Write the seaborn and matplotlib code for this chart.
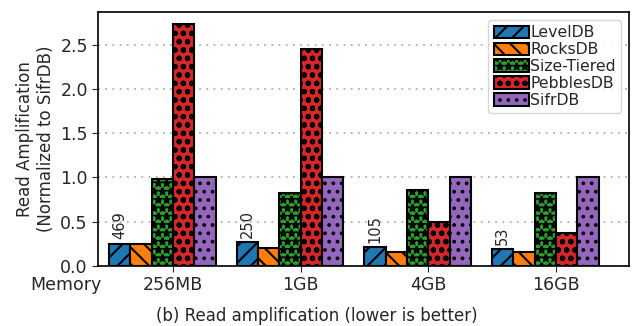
import numpy as np
import pandas as pd
import matplotlib
matplotlib.use("Agg")
import matplotlib.pyplot as plt
import seaborn as sns

# Valeurs (normalisées par rapport à SifrDB)
memory = ["256MB", "1GB", "4GB", "16GB"]
systems = ["LevelDB", "RocksDB", "Size-Tiered", "PebblesDB", "SifrDB"]
leveldb = [0.25, 0.27, 0.21, 0.19]
rocksdb = [0.24, 0.20, 0.16, 0.15]
size_tiered = [0.98, 0.82, 0.855, 0.82]
pebblesdb = [2.74, 2.45, 0.50, 0.37]
sifrdb = [1.0, 1.0, 1.0, 1.0]
leveldb_raw = ["469", "250", "105", "53"]

colors = ["#1f77b4", "#ff7f0e", "#2ca02c", "#d62728", "#9467bd"]
hatches = ["//", "\\\\", "**", "oo", ".."]

series = [leveldb, rocksdb, size_tiered, pebblesdb, sifrdb]
df = pd.DataFrame({
    "memory": np.tile(memory, len(systems)),
    "system": np.repeat(systems, len(memory)),
    "value": np.concatenate(series),
})

sns.set_style("white")
plt.rcParams["hatch.linewidth"] = 1.5
plt.rcParams["font.family"] = ["DejaVu Sans"]

fig, ax = plt.subplots(figsize=(6.34, 3.26), dpi=100)
fig.subplots_adjust(left=0.155, right=0.992, top=0.963, bottom=0.185)

sns.barplot(data=df, x="memory", y="value", hue="system", order=memory,
            hue_order=systems, palette=colors, width=0.835, saturation=1,
            edgecolor="black", linewidth=1.5, ax=ax, legend=False)

for cont, h in zip(ax.containers, hatches):
    for p in cont.patches:
        p.set_hatch(h)

# nombre brut au-dessus des barres LevelDB
ax.bar_label(ax.containers[0], labels=leveldb_raw, rotation=90, padding=3,
             fontsize=10.5)

bw = 0.835 / len(systems)
ax.set_xticks(np.arange(len(memory)) + bw / 2)
ax.set_xticklabels(memory, fontsize=12.5)
ax.set_xlim(-0.503, 3.655)
ax.set_ylim(0, 2.87)
ax.set_yticks([0, 0.5, 1.0, 1.5, 2.0, 2.5])
ax.tick_params(axis="y", labelsize=12.5, left=True, length=4)
ax.tick_params(axis="x", bottom=True, length=4)
ax.yaxis.grid(True, linestyle=(0, (1, 3)), color="#b0b0b0", linewidth=1.3)
ax.set_axisbelow(True)
for s in ax.spines.values():
    s.set_color("black")
    s.set_linewidth(1.2)

ax.set_xlabel("")
ax.set_ylabel("Read Amplification\n(Normalized to SifrDB)", fontsize=12)
fig.text(0.047, 0.125, "Memory", fontsize=12.5, va="center", ha="left")
fig.text(0.5, 0.03, "(b) Read amplification (lower is better)", fontsize=12,
         ha="center", va="center")

ax.legend(ax.containers, systems, loc="upper right", fontsize=11.3,
          handlelength=2.2, handleheight=0.85, handletextpad=0.1,
          labelspacing=0.12, borderpad=0.35, borderaxespad=0.5)

fig.savefig("out.png", dpi=100)
